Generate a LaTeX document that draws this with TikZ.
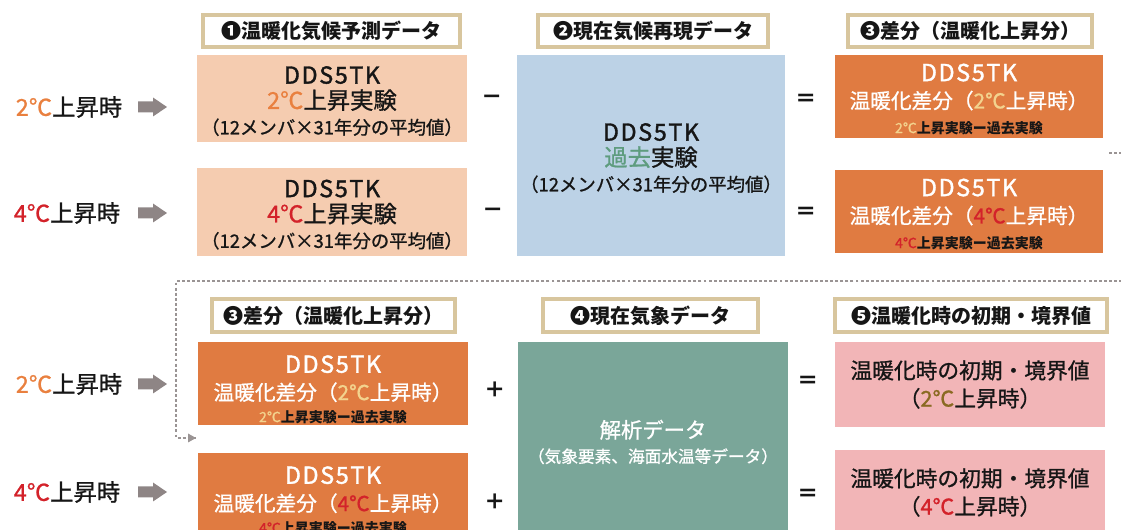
\documentclass[tikz,border=0pt]{standalone}
\usepackage{fontspec}
\setmainfont{Noto Sans CJK JP}
\newfontfamily\medf{Noto Sans CJK JP}[FakeBold=1.0]
\newfontfamily\latf{Noto Sans CJK JP}[FakeBold=1.6, LetterSpace=7]
\usetikzlibrary{arrows.meta}
\definecolor{peach}{HTML}{F5CCB0}
\definecolor{skyb}{HTML}{BCD2E6}
\definecolor{orng}{HTML}{E07B41}
\definecolor{sage}{HTML}{7AA699}
\definecolor{rosy}{HTML}{F2B5B7}
\definecolor{hdrline}{HTML}{D8C69E}
\definecolor{arrgray}{HTML}{8E8585}
\definecolor{dotgray}{HTML}{9A9494}
\definecolor{twoC}{HTML}{E9803F}
\definecolor{fourC}{HTML}{D3222A}
\definecolor{pastg}{HTML}{5E9C7E}
\definecolor{paleC}{HTML}{F3D38E}
\definecolor{oliveC}{HTML}{8A6A22}
\definecolor{ink}{HTML}{161616}
\newcommand\dds{{\latf\fontsize{17.5}{19}\selectfont DDS5TK}}
\newcommand\blockarr[2]{\fill[arrgray] (#1-15,#2-5.5) -- (#1,#2-5.5) -- (#1,#2-9.5) -- (#1+14,#2) -- (#1,#2+9.5) -- (#1,#2+5.5) -- (#1-15,#2+5.5) -- cycle;}
\begin{document}
\begin{tikzpicture}[x=0.75pt,y=-0.75pt,
  rect/.style n args={4}{minimum width={((#3)-(#1))*0.75pt}, minimum height={((#4)-(#2))*0.75pt}, at={({((#1)+(#3))/2},{((#2)+(#4))/2})}},
  hdr/.style={draw=hdrline, line width=2.3pt, fill=white, inner sep=0pt, text=ink,
    font=\bfseries\fontsize{15}{18}\selectfont},
  box/.style={inner sep=0pt, align=center, text=ink},
  bigf/.style={font=\medf\fontsize{17.5}{19}\selectfont},
  midf/.style={font=\medf\fontsize{15.5}{20.5}\selectfont},
  op/.style={inner sep=0pt, text=ink, font=\bfseries\fontsize{16}{16}\selectfont},
  lbl/.style={inner sep=0pt, text=ink, font=\medf\fontsize{17.5}{17.5}\selectfont},
  dotline/.style={draw=dotgray, line width=2.2pt, dash pattern=on 2.2pt off 1.6pt}
]
\useasboundingbox (0,0) rectangle (1121,530);
\clip (0,0) rectangle (1121,530);

% ---------------- top section ----------------
\node[hdr, rect={203}{15}{460}{47}] (h1) {❶温暖化気候予測データ};
\node[hdr, rect={538}{15}{768}{47}] (h2) {❷現在気候再現データ};
\node[hdr, rect={848}{15}{1092}{47}] (h3) {❸差分（温暖化上昇分）};

\node[box, bigf, fill=peach, rect={197}{55}{467}{142}] (p2) {\rule{0pt}{17pt}\dds\\\textcolor{twoC}{2℃}上昇実験\\{\fontsize{13.8}{15}\selectfont（12メンバ×31年分の平均値）}};
\node[box, bigf, fill=peach, rect={197}{168}{467}{256}] (p4) {\rule{0pt}{17pt}\dds\\\textcolor{fourC}{4℃}上昇実験\\{\fontsize{13.8}{15}\selectfont（12メンバ×31年分の平均値）}};

\node[box, bigf, fill=skyb, rect={517}{55}{785}{256}] (past) {\rule{0pt}{17pt}\dds\\\textcolor{pastg}{過去}実験\\{\fontsize{13.8}{15}\selectfont（12メンバ×31年分の平均値）}};

\node[box, midf, text=white, fill=orng, rect={835}{55}{1103}{138}] (d2) {\rule{0pt}{17pt}\dds\\温暖化差分（\textcolor{paleC}{2℃}上昇時）\\[-2pt]{\fontsize{10.5}{12}\selectfont\textcolor{paleC}{2℃}\textcolor{ink}{\normalfont\bfseries 上昇実験ー過去実験}}};
\node[box, midf, text=white, fill=orng, rect={835}{170}{1103}{253}] (d4) {\rule{0pt}{17pt}\dds\\温暖化差分（\textcolor{fourC}{4℃}上昇時）\\[-2pt]{\fontsize{10.5}{12}\selectfont\textcolor{fourC}{4℃}\textcolor{ink}{\normalfont\bfseries 上昇実験ー過去実験}}};

\node[lbl] (l2) at (69,107) {\textcolor{twoC}{2℃}上昇時};
\node[lbl] (l4) at (67,213) {\textcolor{fourC}{4℃}上昇時};
\blockarr{153}{107}
\blockarr{153}{213}

\node[op] (m2) at (492,100) {－};
\node[op] (m4) at (493,213) {－};
\node[op] (e2) at (806,100) {＝};
\node[op] (e4) at (806,213) {＝};

% ---------------- bottom section ----------------
\node[hdr, rect={212}{299}{455}{332}] (h3b) {❸差分（温暖化上昇分）};
\node[hdr, rect={543}{299}{758}{332}] (h4) {❹現在気象データ};
\node[hdr, rect={835}{299}{1107}{332}] (h5) {❺温暖化時の初期・境界値};

\node[box, midf, text=white, fill=orng, rect={198}{342}{468}{425}] (db2) {\rule{0pt}{22pt}\dds\\温暖化差分（\textcolor{paleC}{2℃}上昇時）\\[-4pt]{\fontsize{10.5}{12}\selectfont\textcolor{paleC}{2℃}\textcolor{ink}{\normalfont\bfseries 上昇実験ー過去実験}}};
\node[box, midf, text=white, fill=orng, rect={198}{453}{468}{536}] (db4) {\rule{0pt}{22pt}\dds\\温暖化差分（\textcolor{fourC}{4℃}上昇時）\\[-4pt]{\fontsize{10.5}{12}\selectfont\textcolor{fourC}{4℃}\textcolor{ink}{\normalfont\bfseries 上昇実験ー過去実験}}};

\node[box, text=white, fill=sage, rect={518}{342}{788}{542}, font=\medf\fontsize{16}{18.5}\selectfont] (ana) {解析データ\\{\fontsize{12.5}{14}\selectfont（気象要素、海面水温等データ）}};

\node[box, fill=rosy, rect={835}{342}{1105}{427}, font=\medf\fontsize{16.3}{21}\selectfont] (r2) {温暖化時の初期・境界値\\（\textcolor{oliveC}{2℃}上昇時）};
\node[box, fill=rosy, rect={835}{450}{1105}{535}, font=\medf\fontsize{16.3}{21}\selectfont] (r4) {温暖化時の初期・境界値\\（\textcolor{fourC}{4℃}上昇時）};

\node[lbl] (lb2) at (69,384) {\textcolor{twoC}{2℃}上昇時};
\node[lbl] (lb4) at (67,492) {\textcolor{fourC}{4℃}上昇時};
\blockarr{153}{384}
\blockarr{153}{492}

\node[op] (pl2) at (495,390) {＋};
\node[op] (pl4) at (495,502) {＋};
\node[op] (eb2) at (808,382) {＝};
\node[op] (eb4) at (808,495) {＝};

% ---------------- dotted feedback connector ----------------
\coordinate (fa) at (1109,153);
\coordinate (fb) at (1130,153);
\coordinate (fc) at (1130,281);
\coordinate (fd) at (176,281);
\coordinate (fe) at (176,438);
\coordinate (ff) at (196,438);
\draw[dotline] (fa) -- (fb) -- (fc) -- (fd) -- (fe) -- (ff);
\fill[dotgray] (ff) -- ++(-8,-4.5) -- ++(0,9) -- cycle;
\end{tikzpicture}
\end{document}
